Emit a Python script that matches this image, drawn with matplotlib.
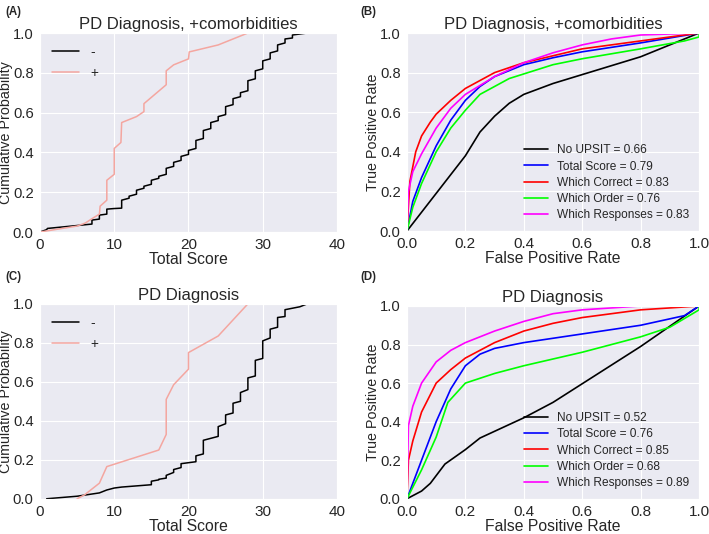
import matplotlib
matplotlib.use("Agg")
import matplotlib.pyplot as plt
import seaborn as sns

sns.set_style("darkgrid")
plt.rcParams['font.family'] = ['Liberation Sans', 'DejaVu Sans']

# ---------------- Panel A: ECDFs, +comorbidities ----------------
a_neg_x = [0, 0.9, 1, 7, 7, 8, 8, 9, 9, 10, 11, 11, 12, 12, 13, 13, 14, 14, 15, 15,
           16, 16, 17, 17, 18, 18, 19, 19, 20, 20, 21, 21, 22, 22, 23, 23, 24, 24,
           25, 25, 26, 26, 27, 27, 28, 28, 29, 29, 30, 30, 31, 31, 32, 32, 33, 33,
           34, 34, 35, 36]
a_neg_y = [0, 0.012, 0.018, 0.04, 0.06, 0.065, 0.085, 0.09, 0.115, 0.118, 0.12, 0.16,
           0.17, 0.18, 0.19, 0.21, 0.22, 0.23, 0.24, 0.26, 0.27, 0.28, 0.29, 0.32,
           0.33, 0.35, 0.36, 0.38, 0.39, 0.41, 0.42, 0.46, 0.47, 0.51, 0.52, 0.55,
           0.56, 0.58, 0.59, 0.63, 0.64, 0.67, 0.68, 0.70, 0.71, 0.76, 0.77, 0.81,
           0.82, 0.86, 0.87, 0.90, 0.91, 0.94, 0.95, 0.97, 0.975, 0.99, 0.995, 1.0]
a_pos_x = [0, 5, 6.1, 7, 8, 8.1, 9, 9, 10, 10, 10.9, 11, 13, 14, 14, 17, 17, 18, 20, 20.1, 24, 28]
a_pos_y = [0, 0.03, 0.045, 0.067, 0.09, 0.13, 0.16, 0.26, 0.29, 0.42, 0.45, 0.55,
           0.58, 0.605, 0.645, 0.74, 0.81, 0.84, 0.87, 0.905, 0.94, 1.0]

# ---------------- Panel C: ECDFs, PD diagnosis ----------------
c_neg_x = [0.9, 5, 8, 9, 10, 11, 15, 15, 16, 16, 17, 17, 18, 18, 19, 19, 20, 21, 21,
           22, 22, 24, 24, 25, 25, 26, 26, 27, 27, 28, 28, 29, 29, 30, 30, 31, 31,
           32, 32, 33, 33, 35, 36]
c_neg_y = [0, 0.013, 0.03, 0.045, 0.055, 0.06, 0.072, 0.09, 0.097, 0.10, 0.106, 0.12,
           0.135, 0.15, 0.16, 0.18, 0.185, 0.19, 0.22, 0.23, 0.30, 0.32, 0.37, 0.385,
           0.43, 0.44, 0.49, 0.50, 0.545, 0.56, 0.62, 0.63, 0.71, 0.72, 0.81, 0.825,
           0.87, 0.88, 0.93, 0.935, 0.97, 0.985, 1.0]
c_pos_x = [5, 6, 8, 9, 16, 17, 17, 18, 20, 20, 24, 28]
c_pos_y = [0, 0.02, 0.08, 0.165, 0.25, 0.33, 0.51, 0.585, 0.665, 0.75, 0.835, 1.0]

# ---------------- Panel B: ROC, +comorbidities ----------------
b_labels = ["No UPSIT = 0.66", "Total Score = 0.79", "Which Correct = 0.83",
            "Which Order = 0.76", "Which Responses = 0.83"]
b_noupsit_fpr = [0, 0.1, 0.2, 0.25, 0.3, 0.35, 0.4, 0.5, 0.6, 0.8, 1.0]
b_noupsit_tpr = [0, 0.19, 0.38, 0.50, 0.58, 0.645, 0.69, 0.745, 0.79, 0.88, 1.0]
b_total_fpr = [0, 0.02, 0.05, 0.1, 0.15, 0.2, 0.25, 0.3, 0.4, 0.5, 0.6, 0.8, 1.0]
b_total_tpr = [0, 0.15, 0.27, 0.43, 0.56, 0.66, 0.73, 0.78, 0.84, 0.875, 0.905, 0.95, 1.0]
b_correct_fpr = [0, 0.01, 0.03, 0.05, 0.08, 0.1, 0.15, 0.2, 0.3, 0.4, 0.5, 0.6, 0.8, 1.0]
b_correct_tpr = [0, 0.25, 0.40, 0.48, 0.55, 0.59, 0.66, 0.72, 0.80, 0.85, 0.885, 0.92, 0.96, 1.0]
b_order_fpr = [0, 0.02, 0.05, 0.1, 0.15, 0.2, 0.25, 0.35, 0.5, 0.6, 0.8, 0.95, 1.0, 1.0]
b_order_tpr = [0, 0.12, 0.24, 0.40, 0.52, 0.61, 0.69, 0.77, 0.84, 0.87, 0.92, 0.96, 0.98, 1.0]
b_resp_fpr = [0, 0.005, 0.02, 0.05, 0.1, 0.15, 0.2, 0.3, 0.4, 0.5, 0.6, 0.7, 0.8, 1.0]
b_resp_tpr = [0, 0.20, 0.30, 0.39, 0.52, 0.62, 0.69, 0.78, 0.85, 0.90, 0.94, 0.97, 0.99, 1.0]

# ---------------- Panel D: ROC, PD diagnosis ----------------
d_labels = ["No UPSIT = 0.52", "Total Score = 0.76", "Which Correct = 0.85",
            "Which Order = 0.68", "Which Responses = 0.89"]
d_noupsit_fpr = [0, 0.05, 0.08, 0.13, 0.2, 0.25, 0.4, 0.5, 0.65, 0.8, 1.0]
d_noupsit_tpr = [0, 0.04, 0.08, 0.18, 0.255, 0.315, 0.42, 0.50, 0.645, 0.79, 1.0]
d_total_fpr = [0, 0.05, 0.1, 0.15, 0.2, 0.25, 0.3, 0.4, 0.6, 0.8, 0.95, 1.0]
d_total_tpr = [0, 0.20, 0.40, 0.57, 0.69, 0.75, 0.78, 0.81, 0.855, 0.90, 0.95, 1.0]
d_correct_fpr = [0, 0.005, 0.02, 0.05, 0.1, 0.15, 0.2, 0.3, 0.4, 0.5, 0.6, 0.8, 1.0]
d_correct_tpr = [0, 0.20, 0.30, 0.45, 0.60, 0.67, 0.73, 0.81, 0.87, 0.91, 0.94, 0.98, 1.0]
d_order_fpr = [0, 0.05, 0.1, 0.14, 0.2, 0.3, 0.4, 0.6, 0.8, 0.9, 1.0, 1.0]
d_order_tpr = [0, 0.15, 0.32, 0.50, 0.60, 0.65, 0.69, 0.76, 0.84, 0.89, 0.98, 1.0]
d_resp_fpr = [0, 0.005, 0.02, 0.05, 0.1, 0.15, 0.2, 0.3, 0.4, 0.5, 0.6, 0.8, 1.0]
d_resp_tpr = [0, 0.38, 0.48, 0.60, 0.71, 0.77, 0.81, 0.87, 0.92, 0.96, 0.98, 1.0, 1.0]

roc_colors = ["black", "blue", "red", "lime", "magenta"]
pink = "#f4a6a0"

fig = plt.figure(figsize=(7.09, 5.34), dpi=100)
axA = fig.add_axes([0.0564, 0.5655, 0.4189, 0.3727])
axB = fig.add_axes([0.574, 0.5674, 0.412, 0.3708])
axC = fig.add_axes([0.0564, 0.066, 0.4189, 0.3650])
axD = fig.add_axes([0.574, 0.066, 0.412, 0.3610])

tick_fs = 11
label_fs = 11.3
title_fs = 12
ylab_fs = 10.3


def finish(ax, title, xlabel, ylabel):
    ax.set_xlabel(xlabel, fontsize=label_fs, labelpad=0)
    ax.set_ylabel(ylabel, fontsize=ylab_fs, labelpad=0)
    ax.set_title(title, fontsize=title_fs, pad=3)
    ax.tick_params(labelsize=tick_fs, pad=1)
    ax.tick_params(axis="y", labelsize=10.6, pad=1)


def style_ecdf(ax, title):
    ax.set_xlim(0, 40)
    ax.set_ylim(0, 1.0)
    ax.set_xticks([0, 10, 20, 30, 40])
    ax.set_yticks([0, 0.2, 0.4, 0.6, 0.8, 1.0])
    ax.set_yticklabels(["0.0", "0.2", "0.4", "0.6", "0.8", "1.0"])
    finish(ax, title, "Total Score", "Cumulative Probability")
    ax.legend(loc="upper left", frameon=False, fontsize=9.8, handlelength=2.0,
              labelspacing=0.5, borderaxespad=0.5)


def style_roc(ax, title):
    ax.set_xlim(0, 1.0)
    ax.set_ylim(0, 1.0)
    ticks = [0, 0.2, 0.4, 0.6, 0.8, 1.0]
    tl = ["0.0", "0.2", "0.4", "0.6", "0.8", "1.0"]
    ax.set_xticks(ticks)
    ax.set_xticklabels(tl)
    ax.set_yticks(ticks)
    ax.set_yticklabels(tl)
    finish(ax, title, "False Positive Rate", "True Positive Rate")
    ax.legend(loc="lower right", frameon=False, fontsize=8.6, handlelength=2.0,
              labelspacing=0.36, borderaxespad=0.4, handletextpad=0.75)


# Panel A
axA.plot(a_neg_x, a_neg_y, color="black", lw=1.1, label="-")
axA.plot(a_pos_x, a_pos_y, color=pink, lw=1.1, label="+")
style_ecdf(axA, "PD Diagnosis, +comorbidities")

# Panel C
axC.plot(c_neg_x, c_neg_y, color="black", lw=1.1, label="-")
axC.plot(c_pos_x, c_pos_y, color=pink, lw=1.1, label="+")
style_ecdf(axC, "PD Diagnosis")

# Panel B
b_curves = [(b_noupsit_fpr, b_noupsit_tpr), (b_total_fpr, b_total_tpr),
            (b_correct_fpr, b_correct_tpr), (b_order_fpr, b_order_tpr),
            (b_resp_fpr, b_resp_tpr)]
for (fx, ty), c, lab in zip(b_curves, roc_colors, b_labels):
    axB.plot(fx, ty, color=c, lw=1.2, label=lab)
style_roc(axB, "PD Diagnosis, +comorbidities")

# Panel D
d_curves = [(d_noupsit_fpr, d_noupsit_tpr), (d_total_fpr, d_total_tpr),
            (d_correct_fpr, d_correct_tpr), (d_order_fpr, d_order_tpr),
            (d_resp_fpr, d_resp_tpr)]
for (fx, ty), c, lab in zip(d_curves, roc_colors, d_labels):
    axD.plot(fx, ty, color=c, lw=1.2, label=lab)
style_roc(axD, "PD Diagnosis")

# Panel labels
for lab, (x, y) in zip(["(A)", "(B)", "(C)", "(D)"],
                       [(0.008, 0.988), (0.508, 0.988), (0.008, 0.492), (0.508, 0.492)]):
    fig.text(x, y, lab, fontsize=8.3, fontweight="bold", va="top", ha="left")

fig.savefig("out.png", dpi=100)
